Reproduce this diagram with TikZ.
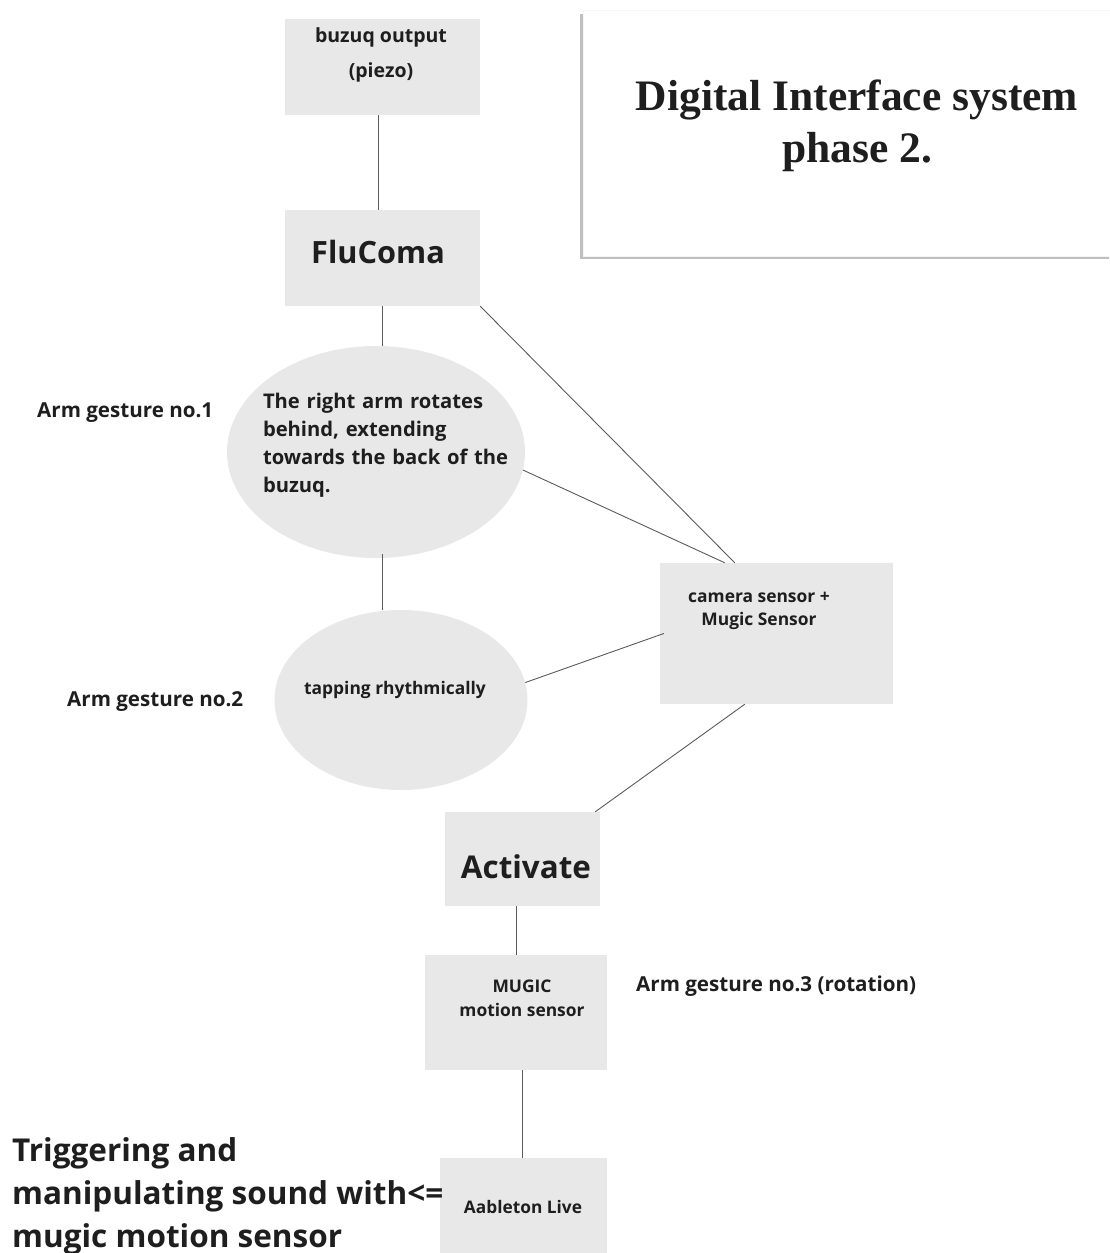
\documentclass[tikz,border=0pt]{standalone}
\usepackage{fontspec}
\setmainfont{Open Sans}
\newfontfamily\titlefont{Liberation Serif}
\usetikzlibrary{positioning, shapes.geometric, calc}

\definecolor{boxgray}{HTML}{E8E8E8}
\definecolor{linegray}{HTML}{5A5A5A}
\definecolor{ink}{HTML}{1E1E1E}

\begin{document}
\begin{tikzpicture}[x=1pt, y=-1pt,
  box/.style={fill=boxgray, draw=none, minimum width=#1, inner sep=0pt},
  oval/.style={ellipse, fill=boxgray, draw=none, inner sep=0pt},
  txt/.style n args={2}{text=ink, font=\bfseries\fontsize{#1}{#2}\selectfont, align=center, inner sep=0pt},
  note/.style={text=ink, font=\bfseries\fontsize{20.6}{24}\selectfont, inner sep=0pt, anchor=west},
  link/.style={draw=linegray, line width=0.9pt}
]
  \useasboundingbox (0,0) rectangle (1109,1253);

  % title panel
  \fill[black!25] (580,14) rectangle (1109,259);
  \node[fill=white, draw=black!4, minimum width=527, minimum height=246, anchor=north west, inner sep=0pt]
    (title) at (583,10) {};
  \node[text=ink, font=\titlefont\bfseries\fontsize{43.5}{52}\selectfont, align=center]
    (titletxt) at (857,126) {Digital Interface system\\phase 2.};

  % boxes and ovals
  \node[box=195, minimum height=96] (buzuq) at (382.5,67) {};
  \node[txt={19.5}{35}] (buzuqtxt) at (381,55) {buzuq output\\(piezo)};
  \node[box=195, minimum height=96] (flucoma) at (382.5,258) {};
  \node[txt={30.7}{34}] (flucomatxt) at (378,252) {FluComa};

  \node[oval, minimum width=298, minimum height=212] (g1) at (376,452) {};
  \node[txt={20.2}{28}, align=left, text width=250] (g1txt) at (388,445)
    {The right arm rotates\\behind, extending\\towards the back of the\\buzuq.};
  \node[oval, minimum width=253, minimum height=180] (g2) at (401,700) {};
  \node[txt={17.4}{20}] (g2txt) at (395,690) {tapping rhythmically};

  \node[box=233, minimum height=141] (camera) at (776.5,633.5) {};
  \node[txt={17.4}{23}] (cameratxt) at (759,611) {camera sensor +\\Mugic Sensor};

  \node[box=155, minimum height=94] (activate) at (522.5,859) {};
  \node[txt={31.4}{34}] (activatetxt) at (526,867) {Activate};
  \node[box=182, minimum height=115] (mugic) at (516,1012.5) {};
  \node[txt={17.4}{24}] (mugictxt) at (522,998) {MUGIC\\motion sensor};
  \node[box=167, minimum height=98, anchor=north] (ableton) at (523.5,1158) {};
  \node[txt={17.3}{20}] (abletontxt) at (523,1207) {Aableton Live};

  % side notes
  \node[note] (arm1) at (37,413) {Arm gesture no.1};
  \node[note] (arm2) at (67,702) {Arm gesture no.2};
  \node[note] (arm3) at (636,986) {Arm gesture no.3 (rotation)};
  \node[text=ink, font=\bfseries\fontsize{31.5}{43}\selectfont, align=left, anchor=north west, inner sep=0pt]
    (trigger) at (12,1137) {Triggering and\\manipulating sound with<=\\mugic motion sensor};

  % connectors
  \draw[link] ([xshift=-4]buzuq.south) -- ([xshift=-4]flucoma.north);
  \draw[link] (flucoma.south) -- (flucoma.south |- g1.north);
  \draw[link] ([yshift=4]g1.south -| flucoma.south) -- (flucoma.south |- g2.north);
  \draw[link] (flucoma.south east) -- ([xshift=75]camera.north west);
  \draw[link] (g1.-7) -- ([xshift=65]camera.north west);
  \draw[link] (g2.8) -- ([xshift=4]camera.west);
  \draw[link] ([xshift=85]camera.south west) -- ([xshift=-5]activate.north east);
  \draw[link] ([xshift=-6]activate.south) -- ([xshift=-6]activate.south |- mugic.north);
  \draw[link] ([xshift=6]mugic.south) -- ([xshift=6]mugic.south |- ableton.north);
\end{tikzpicture}
\end{document}
